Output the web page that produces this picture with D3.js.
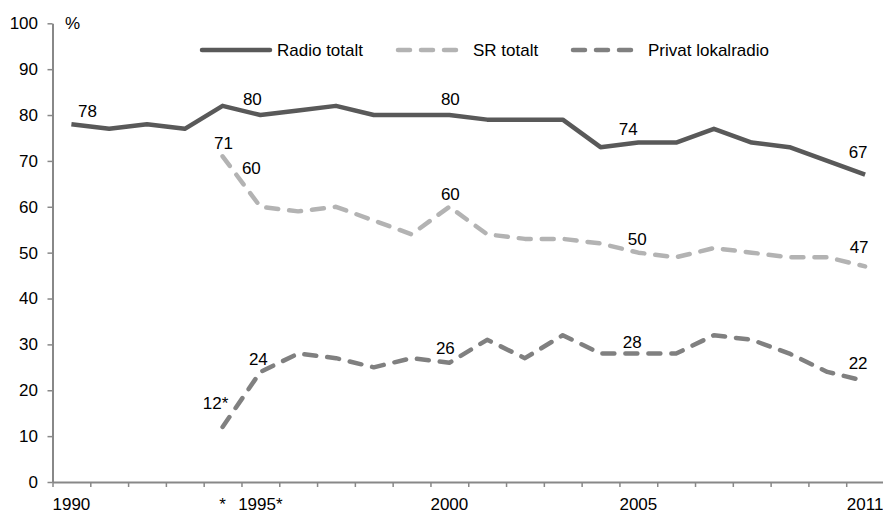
<!DOCTYPE html>
<html>
<head>
<meta charset="utf-8">
<script src="https://cdn.jsdelivr.net/npm/d3@7"></script>
<style>
  html, body { margin: 0; padding: 0; background: #fff; }
  svg { display: block; font-family: "Liberation Sans", Arial, sans-serif; }
</style>
</head>
<body>
<svg id="chart" width="883" height="514"></svg>
<script>
// ---- Data ----
const years = ["1990","1991","1992","1993","1994","1995","1996","1997","1998","1999","2000",
               "2001","2002","2003","2004","2005","2006","2007","2008","2009","2010","2011"];
const tickLabels = ["1990","","","","*","1995*","","","","","2000",
                    "","","","","2005","","","","","","2011"];
const radioTotalt = [78,77,78,77,82,80,81,82,80,80,80,79,79,79,73,74,74,77,74,73,70,67];
const srTotalt    = [null,null,null,null,71,60,59,60,57,54,60,54,53,53,52,50,49,51,50,49,49,47];
const privatLokal = [null,null,null,null,12,24,28,27,25,27,26,31,27,32,28,28,28,32,31,28,24,22];
const seriesNames = ["Radio totalt","SR totalt","Privat lokalradio"];
const yTicks = [0,10,20,30,40,50,60,70,80,90,100];
// labelled points: [series index, category index, suffix]
const labelPoints = [
  [0,0,""],[0,5,""],[0,10,""],[0,15,""],[0,21,""],
  [1,4,""],[1,5,""],[1,10,""],[1,15,""],[1,21,""],
  [2,4,"*"],[2,5,""],[2,10,""],[2,15,""],[2,21,""]
];

// ---- Layout / style ----
const allSeries = [radioTotalt, srTotalt, privatLokal];
const colors = ["#595959", "#b3b3b3", "#808080"];
const dashes = [null, "12,11", "12,11"];
const labelOffsets = [
  [16,-13],[-8,-16],[1,-16],[-10,-14],[-7,-23],
  [1,-13],[-9,-39],[1,-13],[-1,-14],[-6,-19],
  [-7,-24],[-2,-13],[-4,-15],[-6,-12],[-7,-18]
];
const fontSize = 17;
const plotLeft = 52.5, plotRight = 884, plotTop = 23.3, plotBottom = 482;
const axisColor = "#888888";

const svg = d3.select("#chart");

const x = d3.scaleBand().domain(years).range([plotLeft, plotRight]).padding(0);
const xi = d3.scaleLinear().domain([0, years.length]).range([plotLeft, plotRight]);
const y = d3.scaleLinear().domain([0, 100]).range([plotBottom, plotTop]);
const cx = (i) => x(years[i]) + x.bandwidth() / 2;

// Y axis
const yAxis = svg.append("g")
  .attr("transform", `translate(${plotLeft},0)`)
  .call(d3.axisLeft(y).tickValues(yTicks).tickSize(5).tickPadding(9.5).tickSizeOuter(0));
yAxis.select(".domain").attr("stroke", axisColor).attr("stroke-width", 2);
yAxis.selectAll(".tick line").attr("stroke", axisColor).attr("stroke-width", 1.5);
yAxis.selectAll(".tick text").attr("fill", "#000").style("font-size", fontSize + "px")
  .style("font-family", '"Liberation Sans", Arial, sans-serif');

// X axis tick marks (between categories)
const xTickAxis = svg.append("g")
  .attr("transform", `translate(0,${plotBottom})`)
  .call(d3.axisBottom(xi).tickValues(d3.range(0, years.length + 1)).tickSize(5).tickFormat("").tickSizeOuter(0));
xTickAxis.select(".domain").attr("stroke", axisColor).attr("stroke-width", 2);
xTickAxis.selectAll(".tick line").attr("stroke", axisColor).attr("stroke-width", 1.5);

// X axis labels
const xLabelAxis = svg.append("g")
  .attr("transform", `translate(0,${plotBottom})`)
  .call(d3.axisBottom(x).tickSize(0).tickPadding(15.5).tickFormat((d, i) => tickLabels[i]));
xLabelAxis.select(".domain").remove();
xLabelAxis.selectAll(".tick text").attr("fill", "#000").style("font-size", fontSize + "px")
  .style("font-family", '"Liberation Sans", Arial, sans-serif');

// "%" unit
svg.append("text").attr("x", 65).attr("y", 23).attr("dy", "0.35em")
  .style("font-size", fontSize + "px").text("%");

// Lines
const line = d3.line()
  .defined(d => d.v != null)
  .x(d => cx(d.i))
  .y(d => y(d.v));

allSeries.forEach((s, k) => {
  svg.append("path")
    .datum(s.map((v, i) => ({ v, i })))
    .attr("fill", "none")
    .attr("stroke", colors[k])
    .attr("stroke-width", 4.5)
    .attr("stroke-linejoin", "round")
    .attr("stroke-linecap", dashes[k] ? "round" : "butt")
    .attr("stroke-dasharray", dashes[k])
    .attr("d", line);
});

// Data labels
labelPoints.forEach((p, j) => {
  const [k, i, suf] = p;
  const v = allSeries[k][i];
  svg.append("text")
    .attr("x", cx(i) + labelOffsets[j][0])
    .attr("y", y(v) + labelOffsets[j][1])
    .attr("dy", "0.35em")
    .attr("text-anchor", "middle")
    .style("font-size", fontSize + "px")
    .text(v + suf);
});

// Legend
const legendItems = [
  { x1: 202, x2: 270, tx: 277 },
  { x1: 398, x2: 460, tx: 473 },
  { x1: 573, x2: 635, tx: 648 }
];
legendItems.forEach((L, k) => {
  svg.append("line")
    .attr("x1", L.x1).attr("x2", L.x2).attr("y1", 50).attr("y2", 50)
    .attr("stroke", colors[k]).attr("stroke-width", 4.5)
    .attr("stroke-linecap", "round")
    .attr("stroke-dasharray", dashes[k]);
  svg.append("text").attr("x", L.tx).attr("y", 50).attr("dy", "0.35em")
    .style("font-size", fontSize + "px").text(seriesNames[k]);
});
</script>
</body>
</html>
